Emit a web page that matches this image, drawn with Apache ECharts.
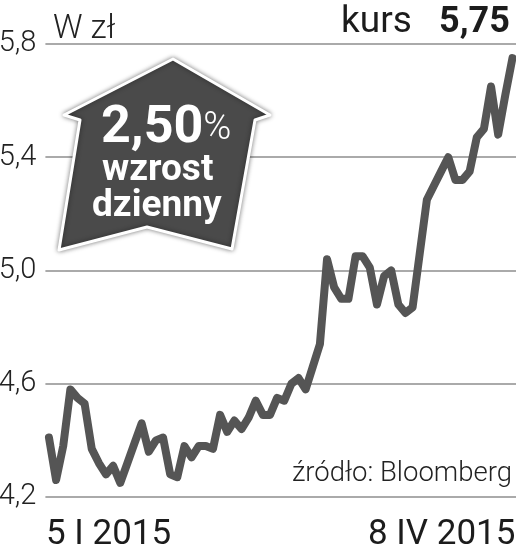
<!DOCTYPE html>
<html><head><meta charset="utf-8">
<style>html,body{margin:0;padding:0;background:#fff}#c{width:516px;height:555px}</style>
<script src="https://cdn.jsdelivr.net/npm/echarts@6/dist/echarts.min.js"></script>
</head><body><div id="c"></div>
<script>
const values = [4.41,4.26,4.38,4.58,4.55,4.53,4.37,4.32,4.28,4.31,4.25,4.32,4.39,4.46,4.36,4.40,4.41,4.28,4.27,4.38,4.34,4.38,4.38,4.37,4.49,4.43,4.47,4.44,4.48,4.54,4.49,4.49,4.55,4.54,4.60,4.62,4.58,4.66,4.74,5.04,4.94,4.90,4.90,5.05,5.05,5.01,4.88,4.98,5.00,4.88,4.85,4.87,5.06,5.25,5.30,5.35,5.40,5.32,5.32,5.35,5.47,5.50,5.65,5.48,5.62,5.75];
const yTicks = [4.2,4.6,5.0,5.4,5.8];
const firstDate = '5 I 2015', lastDate = '8 IV 2015';
const categories = values.map((_, i) => i === 0 ? firstDate : i === values.length - 1 ? lastDate : String(i));
const unitLabel = 'W zł', kursLabel = 'kurs', kursValue = '5,75', sourceLabel = 'źródło: Bloomberg';
const changeValue = '2,50', changeUnit = '%', changeLine1 = 'wzrost', changeLine2 = 'dzienny';
const arrow = [[173,59],[270,115],[255,120],[232,249],[147,227],[59,250],[80,120],[64,115]];
const FONT = 'Roboto';
const chart = echarts.init(document.getElementById('c'), null, {renderer:'canvas'});
chart.setOption({
  animation:false,
  backgroundColor:'#fff',
  grid:{left:45.4,top:44,width:470.6,height:453,containLabel:false,outerBoundsMode:'none'},
  xAxis:{type:'category',data:categories,boundaryGap:true,
    axisLine:{show:false},axisTick:{show:false},splitLine:{show:false},
    axisLabel:{interval:(i)=>i===0||i===values.length-1,formatter:(v)=>v,margin:21,
      fontFamily:FONT,fontSize:35,color:'#1c1c1c',alignMinLabel:'left',alignMaxLabel:'right',hideOverlap:false,
      padding:[0,-3,0,-3]}},
  yAxis:{type:'value',min:4.2,max:5.8,
    axisLine:{show:false},
    axisTick:{show:false,customValues:yTicks},
    axisLabel:{customValues:yTicks,margin:9,fontFamily:FONT,fontWeight:300,fontSize:29,color:'#222',
      formatter:(v)=>v.toFixed(1).replace('.',',')},
    splitLine:{show:false}},
  series:[{type:'line',data:values,showSymbol:false,symbol:'none',smooth:false,clip:false,
    lineStyle:{color:'#555',width:8,join:'round',cap:'round'},
    markLine:{silent:true,symbol:'none',label:{show:false},z:1,
      lineStyle:{color:'#aaa',width:2,type:'solid'},
      data:yTicks.map(v=>({yAxis:v}))}}],
  graphic:[
    {type:'polygon',z:20,shape:{points:arrow},
      style:{fill:'#4a4a4a',stroke:'#fff',lineWidth:3,lineJoin:'round',shadowBlur:5,shadowColor:'rgba(0,0,0,.45)'}},
    {type:'text',z:21,left:101,top:103,style:{rich:{a:{font:'700 52px '+FONT,fill:'#fff'},b:{font:'300 38px '+FONT,fill:'#fff'}},text:'{a|'+changeValue+'}{b|'+changeUnit+'}'}},
    {type:'text',z:21,left:102,top:152,style:{text:changeLine1,font:'700 37px '+FONT,fill:'#fff'}},
    {type:'text',z:21,left:92,top:188,style:{text:changeLine2,font:'700 37px '+FONT,fill:'#fff'}},
    {type:'text',z:21,left:53,top:13,style:{text:unitLabel,font:'300 33px '+FONT,fill:'#222'}},
    {type:'text',z:21,left:341,top:4,style:{text:kursLabel,font:'400 37px '+FONT,fill:'#1c1c1c'}},
    {type:'text',z:21,left:439,top:5,style:{text:kursValue,font:'700 36px '+FONT,fill:'#1c1c1c'}},
    {type:'text',z:21,right:4,top:460,style:{text:sourceLabel,font:'300 27.5px '+FONT,fill:'#222'}}
  ]
});
</script></body></html>
